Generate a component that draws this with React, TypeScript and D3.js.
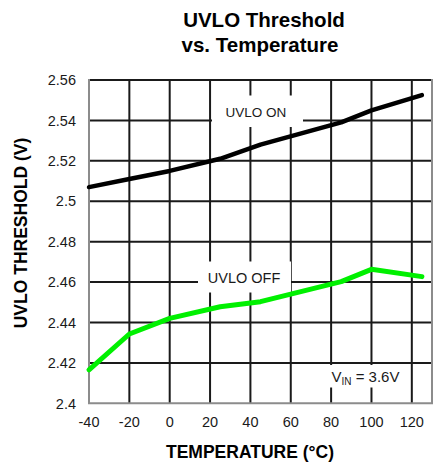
import React from "react";
import * as d3 from "d3";

const temps = [-40, -20, 0, 25, 45, 85, 100, 125];
const uvloOn = [2.507, 2.511, 2.515, 2.521, 2.528, 2.539, 2.545, 2.5525];
const uvloOff = [2.4165, 2.4343, 2.442, 2.4478, 2.4503, 2.4602, 2.4663, 2.4627];
const xTicks = [-40, -20, 0, 20, 40, 60, 80, 100, 120];
const yTicks = [2.4, 2.42, 2.44, 2.46, 2.48, 2.5, 2.52, 2.54, 2.56];
const yTickLabels = ["2.4", "2.42", "2.44", "2.46", "2.48", "2.5", "2.52", "2.54", "2.56"];

const W = 444;
const H = 465;
const M = { left: 89, right: 432, top: 80, bottom: 403.3 };

export default function App() {
  const x = d3.scaleLinear().domain([-40, 130]).range([M.left, M.right]);
  const y = d3.scaleLinear().domain([2.4, 2.56]).range([M.bottom, M.top]);
  const line = d3
    .line<number>()
    .x((_, i) => x(temps[i]))
    .y((d) => y(d));
  const font = "'Liberation Sans', Arial, Helvetica, sans-serif";
  return (
    <svg
      width={W}
      height={H}
      style={{ position: "absolute", left: 0, top: 0, background: "#fff" }}
      fontFamily={font}
    >
      <rect x={0} y={0} width={W} height={H} fill="#fff" />
      {/* title */}
      <text x={264} y={27} textAnchor="middle" fontSize={20.5} fontWeight="bold" fill="#000">
        UVLO Threshold
      </text>
      <text x={260} y={52} textAnchor="middle" fontSize={20.5} fontWeight="bold" fill="#000">
        vs. Temperature
      </text>
      {/* grid */}
      {xTicks.slice(1).map((t) => (
        <line key={"vx" + t} x1={x(t)} x2={x(t)} y1={M.top} y2={M.bottom} stroke="#1a1a1a" strokeWidth={2} />
      ))}
      {yTicks.slice(1).map((t) => (
        <line key={"hy" + t} x1={M.left} x2={M.right} y1={y(t)} y2={y(t)} stroke="#1a1a1a" strokeWidth={2} />
      ))}
      {/* frame */}
      <path
        d={`M${M.left},${M.top - 1}V${M.bottom}H${M.right}V${M.top - 1}`}
        fill="none"
        stroke="#8c8c8c"
        strokeWidth={2}
      />
      {/* label boxes */}
      <rect x={212} y={95.5} width={91} height={31.5} fill="#fff" />
      <text x={256} y={117} textAnchor="middle" fontSize={13.5} fill="#1a1a1a">
        UVLO ON
      </text>
      <rect x={198} y={261.5} width={93} height={31} fill="#fff" />
      <text x={244} y={282.5} textAnchor="middle" fontSize={14.5} fill="#1a1a1a">
        UVLO OFF
      </text>
      <rect x={328} y={365} width={72} height={22.5} fill="#fff" />
      <text x={331.5} y={381.5} fontSize={15} fill="#1a1a1a">
        V<tspan fontSize={10} dy={3}>IN</tspan>
        <tspan dy={-3}> = 3.6V</tspan>
      </text>
      {/* series */}
      <path d={line(uvloOn) || ""} fill="none" stroke="#000" strokeWidth={4.5} strokeLinejoin="round" strokeLinecap="round" />
      <path d={line(uvloOff) || ""} fill="none" stroke="#00f000" strokeWidth={5} strokeLinejoin="round" strokeLinecap="round" />
      {/* y tick labels */}
      {yTicks.map((t, i) => (
        <text key={"yl" + t} x={76} y={y(t)} dy="0.36em" textAnchor="end" fontSize={14.5} fill="#1a1a1a">
          {yTickLabels[i]}
        </text>
      ))}
      {/* x tick labels */}
      {xTicks.map((t) => (
        <text key={"xl" + t} x={x(t)} y={427} textAnchor="middle" fontSize={14.5} fill="#1a1a1a">
          {t}
        </text>
      ))}
      {/* axis titles */}
      <text x={250} y={457.5} textAnchor="middle" fontSize={17.5} fontWeight="bold" fill="#000">
        TEMPERATURE (°C)
      </text>
      <text
        transform={`translate(27,233) rotate(-90)`}
        textAnchor="middle"
        fontSize={17.5}
        fontWeight="bold"
        fill="#000"
      >
        UVLO THRESHOLD (V)
      </text>
    </svg>
  );
}
